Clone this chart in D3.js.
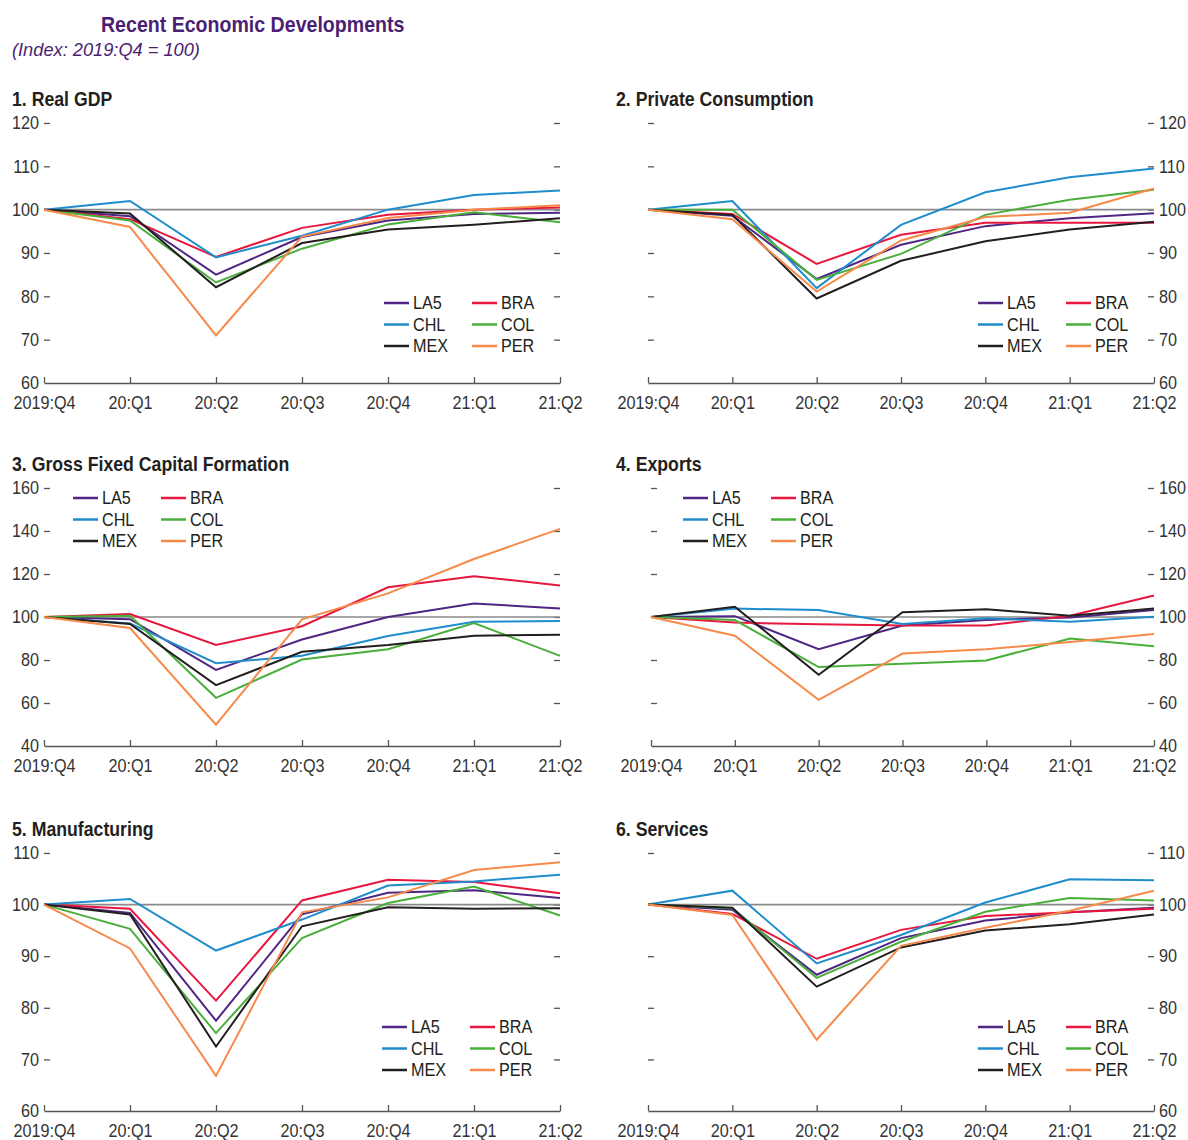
<!DOCTYPE html>
<html>
<head>
<meta charset="utf-8">
<script src="https://cdn.jsdelivr.net/npm/d3@7"></script>
<style>
  body { margin: 0; background: #fff; }
  svg { display: block; font-family: "Liberation Sans", Arial, sans-serif; }
  .tick text { font-size: 18px; fill: #333; }
  .axis .domain { stroke: #555; stroke-width: 1.3; }
  .axis .tick line { stroke: #555; stroke-width: 1.3; }
  .ref { stroke: #8a8a8a; stroke-width: 1.6; }
  .series { fill: none; stroke-width: 2; stroke-linejoin: miter; }
  .ptitle { font-size: 20px; font-weight: bold; fill: #231f20; }
  .legend text { font-size: 18px; fill: #231f20; }
</style>
</head>
<body>
<svg id="chart" width="1188" height="1140"></svg>
<script>
// quarters and series
const quarters = ["2019:Q4", "20:Q1", "20:Q2", "20:Q3", "20:Q4", "21:Q1", "21:Q2"];
const seriesNames = ["LA5", "BRA", "CHL", "COL", "MEX", "PER"];
const seriesColors = ["#4f2683", "#e8173f", "#1f8dcc", "#4aae3b", "#231f20", "#f68a4b"];

// values (index 2019:Q4 = 100)
const realGDP = {
  LA5: [100, 98.5, 85, 93.7, 97.5, 99, 99.3],
  BRA: [100, 97.8, 89.1, 95.8, 98.8, 100, 100.5],
  CHL: [100, 102, 89, 94, 100, 103.4, 104.4],
  COL: [100, 97.5, 83.2, 91, 96.6, 99.4, 97.1],
  MEX: [100, 99.1, 82.1, 92.3, 95.4, 96.5, 98],
  PER: [100, 96, 71, 93.8, 98.1, 100, 101]
};
const privateConsumption = {
  LA5: [100, 98.6, 84, 91.9, 96.2, 98, 99.2],
  BRA: [100, 99, 87.5, 94.2, 97, 97, 97],
  CHL: [100, 102, 81.9, 96.5, 104, 107.5, 109.5],
  COL: [100, 100, 83.8, 89.8, 98.8, 102.3, 104.6],
  MEX: [100, 98.8, 79.5, 88.2, 92.7, 95.4, 97.2],
  PER: [100, 97.8, 81.1, 92.9, 98.3, 99.3, 104.9]
};
const grossFixedCapital = {
  LA5: [100, 99, 75.4, 89.5, 100, 106.3, 103.9],
  BRA: [100, 101.4, 87, 95.7, 113.8, 119, 114.7],
  CHL: [100, 97, 78.5, 82, 91.2, 97.8, 98.1],
  COL: [100, 100.6, 62.4, 80.2, 85, 97.2, 81.9],
  MEX: [100, 96.8, 68.3, 83.8, 87, 91.3, 91.7],
  PER: [100, 94.9, 49.9, 98.9, 111, 127, 141]
};
const exportsIdx = {
  LA5: [100, 100.4, 85, 96, 98.6, 99.8, 103.2],
  BRA: [100, 97.4, 96.6, 96.1, 96.1, 100.6, 110],
  CHL: [100, 103.9, 103.2, 96.8, 99.4, 97.8, 100.1],
  COL: [100, 98.6, 76.7, 78.2, 79.8, 90, 86.4],
  MEX: [100, 104.8, 73.1, 102.2, 103.6, 100.6, 103.9],
  PER: [100, 91.3, 61.5, 83, 85, 88.4, 92.1]
};
const manufacturing = {
  LA5: [100, 98.4, 77.5, 98.1, 102.3, 102.8, 101.3],
  BRA: [100, 99.2, 81.4, 100.8, 104.8, 104.4, 102.2],
  CHL: [100, 101.1, 91.1, 97.1, 103.7, 104.5, 105.8],
  COL: [100, 95.3, 75.1, 93.5, 100.3, 103.5, 97.9],
  MEX: [100, 98.1, 72.5, 95.8, 99.5, 99.2, 99.3],
  PER: [100, 91.5, 66.8, 98.5, 101.4, 106.7, 108.2]
};
const services = {
  LA5: [100, 99, 86.4, 93.5, 96.9, 98.5, 99.4],
  BRA: [100, 98.2, 89.5, 95.1, 97.8, 98.5, 99.2],
  CHL: [100, 102.7, 88.6, 94.1, 100.4, 104.9, 104.7],
  COL: [100, 99.3, 85.8, 92.8, 98.6, 101.3, 100.8],
  MEX: [100, 99.4, 84.1, 91.7, 95, 96.2, 98.1],
  PER: [100, 98, 73.8, 92, 95.5, 98.8, 102.7]
};

const yTicks1 = [60, 70, 80, 90, 100, 110, 120];
const yTicks2 = [40, 60, 80, 100, 120, 140, 160];
const yTicks3 = [60, 70, 80, 90, 100, 110];

// panel layout
const panels = [
  { title: "1. Real GDP", data: realGDP, ticks: yTicks1, side: "left",
    x0: 44, x1: 560, yTop: 123, yBot: 383, titleY: 106, legend: [384, 303] },
  { title: "2. Private Consumption", data: privateConsumption, ticks: yTicks1, side: "right",
    x0: 648, x1: 1154, yTop: 123, yBot: 383, titleY: 106, legend: [978, 303] },
  { title: "3. Gross Fixed Capital Formation", data: grossFixedCapital, ticks: yTicks2, side: "left",
    x0: 44, x1: 560, yTop: 488, yBot: 746, titleY: 471, legend: [73, 498] },
  { title: "4. Exports", data: exportsIdx, ticks: yTicks2, side: "right",
    x0: 651, x1: 1154, yTop: 488, yBot: 746, titleY: 471, legend: [683, 498] },
  { title: "5. Manufacturing", data: manufacturing, ticks: yTicks3, side: "left",
    x0: 44, x1: 560, yTop: 853, yBot: 1111, titleY: 836, legend: [382, 1027] },
  { title: "6. Services", data: services, ticks: yTicks3, side: "right",
    x0: 648, x1: 1154, yTop: 853, yBot: 1111, titleY: 836, legend: [978, 1027] }
];

const svg = d3.select("#chart");

svg.append("text")
  .attr("x", 101).attr("y", 32).attr("data-sx", 0.89)
  .style("font-size", "22px").style("font-weight", "bold").style("fill", "#4a1f73")
  .text("Recent Economic Developments");
svg.append("text")
  .attr("x", 12).attr("y", 56).attr("data-sx", 0.96)
  .style("font-size", "19px").style("font-style", "italic").style("fill", "#4a1f73")
  .text("(Index: 2019:Q4 = 100)");

const color = d3.scaleOrdinal().domain(seriesNames).range(seriesColors);

panels.forEach(p => {
  const x = d3.scalePoint().domain(quarters).range([p.x0, p.x1]);
  const y = d3.scaleLinear().domain(d3.extent(p.ticks)).range([p.yBot, p.yTop]);
  const g = svg.append("g");

  g.append("text").attr("class", "ptitle").attr("data-sx", 0.885)
    .attr("x", p.side === "left" ? 12 : 616).attr("y", p.titleY)
    .text(p.title);

  // y axes: labelled side + bare ticks on the other side
  const labelAxis = p.side === "left" ? d3.axisLeft(y) : d3.axisRight(y);
  const bareAxis = p.side === "left" ? d3.axisRight(y) : d3.axisLeft(y);
  const ticksNoBase = p.ticks.filter(t => t !== p.ticks[0]);

  g.append("g").attr("class", "axis")
    .attr("transform", `translate(${p.side === "left" ? p.x0 : p.x1},0)`)
    .call(labelAxis.tickValues(p.ticks).tickSize(-6).tickPadding(5).tickFormat(d3.format("d")))
    .call(a => a.select(".domain").remove())
    .call(a => a.selectAll(".tick line").filter(d => d === p.ticks[0]).remove());

  g.append("g").attr("class", "axis")
    .attr("transform", `translate(${p.side === "left" ? p.x1 : p.x0},0)`)
    .call(bareAxis.tickValues(ticksNoBase).tickSize(-6).tickFormat(""))
    .call(a => a.select(".domain").remove());

  // x axis
  g.append("g").attr("class", "axis")
    .attr("transform", `translate(0,${p.yBot})`)
    .call(d3.axisBottom(x).tickSize(-6).tickSizeOuter(0).tickPadding(13))
    .call(a => a.selectAll(".tick text").attr("dy", "0.71em"));

  // reference line at 100
  g.append("line").attr("class", "ref")
    .attr("x1", p.x0).attr("x2", p.x1)
    .attr("y1", y(100)).attr("y2", y(100));

  const line = d3.line().x((d, i) => x(quarters[i])).y(d => y(d));
  g.selectAll("path.series")
    .data(seriesNames)
    .join("path")
    .attr("class", "series")
    .attr("stroke", d => color(d))
    .attr("d", d => line(p.data[d]));

  // legend: two columns, three rows
  const lg = g.append("g").attr("class", "legend")
    .attr("transform", `translate(${p.legend[0]},${p.legend[1]})`);
  seriesNames.forEach((s, i) => {
    const cx = (i % 2) * 88, cy = Math.floor(i / 2) * 21.5;
    lg.append("line")
      .attr("x1", cx).attr("x2", cx + 25).attr("y1", cy).attr("y2", cy)
      .attr("stroke", color(s)).attr("stroke-width", 2.5);
    lg.append("text")
      .attr("x", cx + 29).attr("y", cy).attr("dy", "0.36em")
      .text(s);
  });
});

// squeeze all text horizontally to get the condensed look, keeping the anchor point
svg.selectAll("text").each(function() {
  const b = this.getBBox();
  const anchor = getComputedStyle(this).textAnchor;
  const s = +(this.getAttribute("data-sx") || 0.9);
  const ax = anchor === "end" ? b.x + b.width : anchor === "middle" ? b.x + b.width / 2 : b.x;
  const prev = this.getAttribute("transform") || "";
  this.setAttribute("transform", `${prev} translate(${ax},0) scale(${s},1) translate(${-ax},0)`);
});
</script>
</body>
</html>
